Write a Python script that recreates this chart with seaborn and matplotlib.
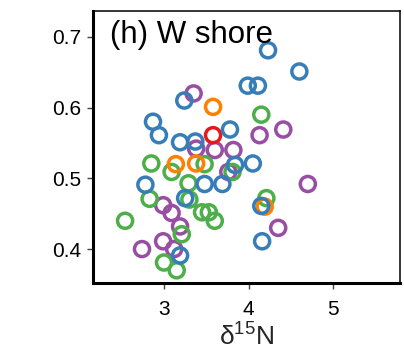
import matplotlib
matplotlib.use("Agg")
import matplotlib.pyplot as plt
import pandas as pd
import seaborn as sns

# Nitrogen isotope (x) against ratio (y) for each sample group
g1_x = [4.23, 4.60, 3.99, 4.11, 3.24, 2.87, 2.94, 3.19, 3.37, 3.78, 3.84, 4.05,
        2.78, 3.48, 3.69, 3.25, 4.15, 4.16, 3.19]
g1_y = [0.681, 0.651, 0.631, 0.631, 0.610, 0.580, 0.561, 0.551, 0.552, 0.569, 0.519, 0.521,
        0.491, 0.492, 0.492, 0.472, 0.461, 0.411, 0.391]

g2_x = [3.58, 3.14, 3.38, 4.19]
g2_y = [0.601, 0.520, 0.521, 0.460]

g3_x = [3.58]
g3_y = [0.561]

g4_x = [4.15, 2.85, 3.09, 3.48, 3.81, 3.29, 2.83, 3.30, 2.54, 3.45, 3.53, 3.60,
        3.21, 3.00, 3.15, 4.21]
g4_y = [0.590, 0.521, 0.509, 0.520, 0.509, 0.493, 0.471, 0.470, 0.440, 0.452, 0.452, 0.440,
        0.421, 0.381, 0.370, 0.472]

g5_x = [3.35, 4.41, 4.13, 3.38, 3.60, 3.82, 3.76, 4.70, 2.99, 3.09, 3.19, 4.35,
        2.99, 3.12, 2.74]
g5_y = [0.620, 0.569, 0.561, 0.542, 0.540, 0.540, 0.509, 0.492, 0.462, 0.451, 0.432, 0.430,
        0.411, 0.400, 0.400]

groups = ["g5", "g4", "g3", "g2", "g1"]
colors = {"g1": "#377eb8", "g2": "#ff7f00", "g3": "#e41a1c", "g4": "#4daf4a", "g5": "#984ea3"}
xs = {"g1": g1_x, "g2": g2_x, "g3": g3_x, "g4": g4_x, "g5": g5_x}
ys = {"g1": g1_y, "g2": g2_y, "g3": g3_y, "g4": g4_y, "g5": g5_y}

df = pd.concat(
    [pd.DataFrame({"d15N": xs[g], "ratio": ys[g], "group": g}) for g in groups],
    ignore_index=True,
)

sns.set_style("ticks")
plt.rcParams["font.family"] = ["Liberation Sans", "DejaVu Sans"]
plt.rcParams["mathtext.fontset"] = "custom"
plt.rcParams["mathtext.rm"] = "Liberation Sans"
plt.rcParams["mathtext.default"] = "regular"

fig = plt.figure(figsize=(4.04, 3.56), dpi=100)
ax = fig.add_axes([0.229, 0.205, 0.762, 0.765])

sns.scatterplot(data=df, x="d15N", y="ratio", hue="group", palette=colors,
                s=118, linewidth=2.5, legend=False, ax=ax, zorder=3)
for coll in ax.collections:
    coll.set_edgecolors(coll.get_facecolors())
    coll.set_facecolors("none")

ax.set_xlim(2.155, 5.794)
ax.set_ylim(0.352, 0.737)
ax.set_xticks([3, 4, 5])
ax.set_yticks([0.4, 0.5, 0.6, 0.7])
ax.set_xticklabels(["3", "4", "5"])
ax.set_yticklabels(["0.4", "0.5", "0.6", "0.7"])

for side in ["left", "bottom"]:
    ax.spines[side].set_linewidth(2.2)
    ax.spines[side].set_color("black")
for side in ["top", "right"]:
    ax.spines[side].set_visible(True)
    ax.spines[side].set_linewidth(1.1)
    ax.spines[side].set_color("black")

ax.tick_params(axis="both", direction="out", length=4.3, width=1.0, color="#444444",
               labelsize=15, labelcolor="black")
ax.tick_params(axis="x", pad=8)
ax.tick_params(axis="y", pad=4)

ax.set_xlabel(r"δ$^{15}$N", fontsize=19, labelpad=3)
ax.set_ylabel("")

ax.text(0.057, 0.881, "(h) W shore", transform=ax.transAxes, fontsize=22.5,
        ha="left", va="baseline", color="black")

fig.savefig("out.png", dpi=100)
